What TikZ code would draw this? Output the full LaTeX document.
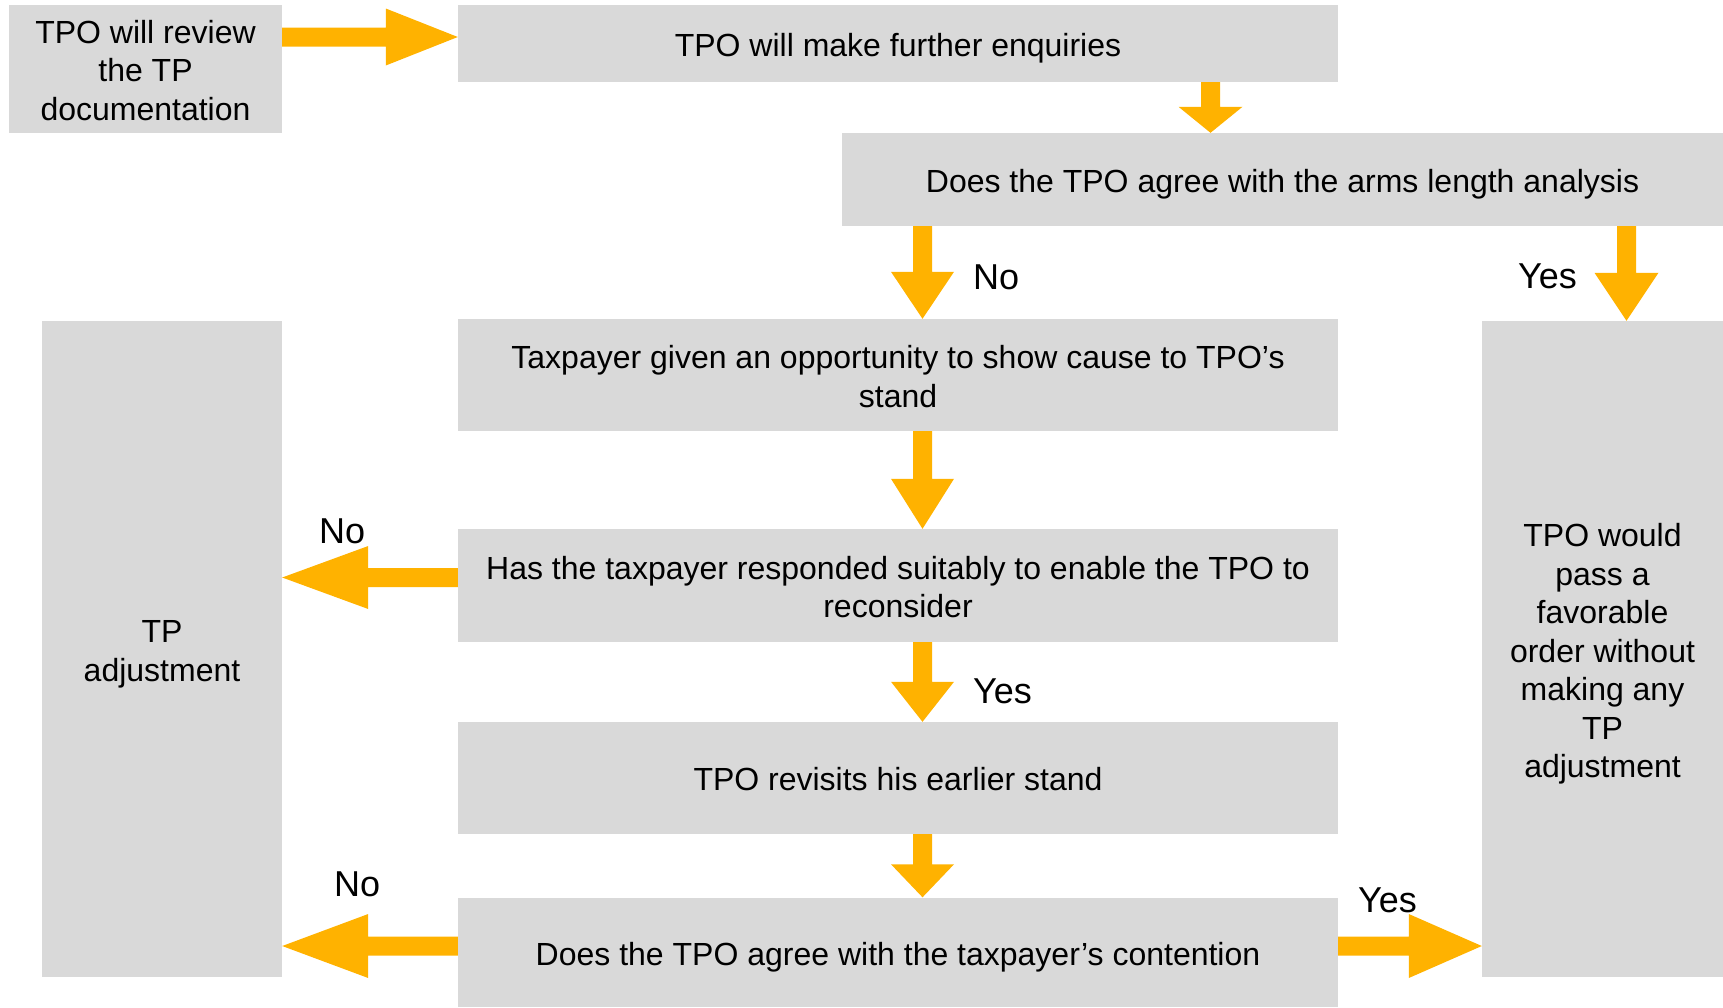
\documentclass[tikz,border=0pt]{standalone}
\usepackage{fontspec}
\setmainfont{Liberation Sans}
\usetikzlibrary{calc}
\definecolor{boxgray}{HTML}{D9D9D9}
\definecolor{arrowc}{HTML}{FFB200}
\newcommand\shaftw{9.5pt}
\newcommand\lowstrut[1]{\rule{0pt}{#1}}
% #1 head half width, #2 start, #3 end (tip), #4 head length
\newcommand\fatarr[4]{%
  \coordinate (fah) at ($(#3)!#4!(#2)$);
  \fill[arrowc] ($(#2)!\shaftw!90:(#3)$) -- ($(fah)!\shaftw!-90:(#2)$) --
    ($(fah)!#1!-90:(#2)$) -- (#3) -- ($(fah)!#1!90:(#2)$) --
    ($(fah)!\shaftw!90:(#2)$) -- ($(#2)!\shaftw!-90:(#3)$) -- cycle;}
\begin{document}
\begin{tikzpicture}[x=1pt,y=-1pt,
  box/.style={fill=boxgray, inner sep=0pt, align=center,
    font=\fontsize{32}{38.5}\selectfont},
  tdown/.style={execute at begin node={\rule{0pt}{#1}}},
  lbl/.style={inner sep=0pt, anchor=base west,
    font=\fontsize{36}{40}\selectfont}]
\useasboundingbox (0,0) rectangle (1723,1007);
% boxes
\node[box, minimum width=273pt, minimum height=128pt] (A) at (145.5,69)
  {\lowstrut{26pt}TPO will review\\the TP\\documentation};
\node[box, tdown=33.5pt, minimum width=880pt, minimum height=77pt] (B) at (898,43.5)
  {TPO will make further enquiries};
\node[box, tdown=33.5pt, minimum width=881pt, minimum height=93pt] (C) at (1282.5,179.5)
  {Does the TPO agree with the arms length analysis};
\node[box, minimum width=880pt, minimum height=112pt] (D) at (898,375)
  {\lowstrut{26.5pt}Taxpayer given an opportunity to show cause to TPO’s\\stand};
\node[box, minimum width=880pt, minimum height=113pt] (E) at (898,585.5)
  {\lowstrut{26.5pt}Has the taxpayer responded suitably to enable the TPO to\\reconsider};
\node[box, tdown=25pt, minimum width=880pt, minimum height=112pt] (F) at (898,778)
  {TPO revisits his earlier stand};
\node[box, tdown=33.5pt, minimum width=880pt, minimum height=109pt] (G) at (898,952)
  {Does the TPO agree with the taxpayer’s contention};
\node[box, minimum width=240pt, minimum height=656pt] (L) at (162,649)
  {\lowstrut{33pt}TP\\adjustment};
\node[box, minimum width=241pt, minimum height=656pt] (R) at (1602.5,649)
  {\lowstrut{33.5pt}TPO would\\pass a\\favorable\\order without\\making any\\TP\\adjustment};
% connector end points
\coordinate (a1s) at (A.east |- 0,37);
\coordinate (a1e) at (B.west |- 0,37);
\coordinate (a2s) at (B.south -| 1210.5,0);
\coordinate (a2e) at (C.north -| 1210.5,0);
\coordinate (a3s) at (C.south -| 922.5,0);
\coordinate (a3e) at (D.north -| 922.5,0);
\coordinate (a4s) at (C.south -| 1626.5,0);
\coordinate (a4e) at (R.north -| 1626.5,0);
\coordinate (a5s) at (D.south -| 922.5,0);
\coordinate (a5e) at (E.north -| 922.5,0);
\coordinate (a6s) at (E.west |- 0,577.5);
\coordinate (a6e) at (L.east |- 0,577.5);
\coordinate (a7s) at (E.south -| 922.5,0);
\coordinate (a7e) at (F.north -| 922.5,0);
\coordinate (a8s) at (F.south -| 922.5,0);
\coordinate (a8e) at (G.north -| 922.5,0);
\coordinate (a9s) at (G.west |- 0,946);
\coordinate (a9e) at (L.east |- 0,946);
\coordinate (a10s) at (G.east |- 0,946);
\coordinate (a10e) at (R.west |- 0,946);
% connectors
\fatarr{28.5pt}{a1s}{a1e}{72pt}
\fatarr{32pt}{a2s}{a2e}{26pt}
\fatarr{31.5pt}{a3s}{a3e}{47pt}
\fatarr{32pt}{a4s}{a4e}{48pt}
\fatarr{31.5pt}{a5s}{a5e}{50pt}
\fatarr{31.5pt}{a6s}{a6e}{86pt}
\fatarr{31.5pt}{a7s}{a7e}{40pt}
\fatarr{31.5pt}{a8s}{a8e}{33pt}
\fatarr{32pt}{a9s}{a9e}{86pt}
\fatarr{32pt}{a10s}{a10e}{73pt}
% labels
\node[lbl] (l1) at (973,289) {No};
\node[lbl] (l2) at (1518,288) {Yes};
\node[lbl] (l3) at (319,543) {No};
\node[lbl] (l4) at (973,703) {Yes};
\node[lbl] (l5) at (334,896) {No};
\node[lbl] (l6) at (1358,912) {Yes};
\end{tikzpicture}
\end{document}
